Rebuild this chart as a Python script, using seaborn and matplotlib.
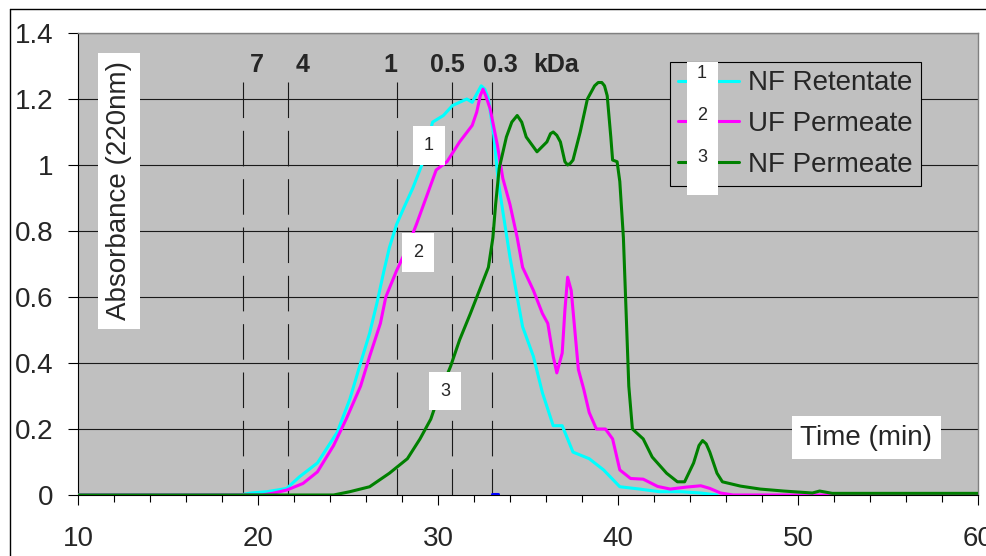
import numpy as np
import pandas as pd
import matplotlib
matplotlib.use('Agg')
import matplotlib.pyplot as plt
import seaborn as sns
from matplotlib.patches import Rectangle
from matplotlib.lines import Line2D

# values (time in min, absorbance at 220 nm)
ret_time = [10, 19.0, 19.6, 20.5, 21.6, 22.3, 23.3, 24.4, 25.1, 25.7, 26.2, 26.6, 27.0,
            27.3, 27.7, 28.1, 28.6, 29.1, 29.7, 30.3, 30.8, 31.6, 31.9, 32.2, 32.4,
            32.6, 32.8, 33.1, 33.35, 33.6, 34.0, 34.4, 34.7, 35.3, 35.8, 36.4, 36.9,
            37.5, 38.4, 39.2, 40.1, 41.2, 42.3, 43.5, 44.6, 45.5]
ret_abs = [0, 0, 0.006, 0.01, 0.02, 0.055, 0.097, 0.19, 0.29, 0.40, 0.49, 0.58, 0.68,
           0.75, 0.82, 0.87, 0.93, 1.00, 1.13, 1.15, 1.18, 1.20, 1.19, 1.22, 1.24,
           1.23, 1.20, 1.09, 0.95, 0.86, 0.72, 0.60, 0.51, 0.42, 0.31, 0.21, 0.21,
           0.13, 0.11, 0.076, 0.025, 0.018, 0.01, 0.01, 0.006, 0]

uf_time = [10, 20.2, 20.8, 21.6, 22.5, 23.3, 24.2, 24.9, 25.7, 26.2, 26.8, 27.1, 27.7,
           28.3, 28.8, 29.4, 29.9, 30.5, 31.2, 31.9, 32.15, 32.35, 32.5, 32.65, 32.9,
           33.3, 33.6, 34.0, 34.4, 34.7, 35.3, 35.8, 36.1, 36.4, 36.6, 36.9, 37.05,
           37.2, 37.4, 37.6, 37.8, 38.1, 38.4, 38.8, 39.3, 39.7, 40.1, 40.7, 41.4,
           42.2, 42.9, 43.8, 44.6, 45.1, 45.7, 46.4, 60]
uf_abs = [0, 0, 0.005, 0.015, 0.035, 0.07, 0.15, 0.23, 0.33, 0.42, 0.52, 0.60, 0.68,
          0.75, 0.82, 0.91, 0.985, 1.01, 1.07, 1.12, 1.16, 1.21, 1.23, 1.21, 1.17,
          1.06, 0.96, 0.88, 0.78, 0.69, 0.62, 0.55, 0.52, 0.42, 0.37, 0.43, 0.56,
          0.66, 0.62, 0.50, 0.38, 0.32, 0.25, 0.20, 0.20, 0.17, 0.076, 0.05, 0.048,
          0.026, 0.018, 0.024, 0.028, 0.02, 0.006, 0, 0]

nf_time = [10, 24.2, 25.1, 26.2, 27.3, 28.3, 29.0, 29.6, 30.1, 30.7, 31.2, 31.8, 32.3,
           32.8, 33.05, 33.2, 33.4, 33.8, 34.1, 34.4, 34.65, 34.9, 35.5, 36.05, 36.25,
           36.4, 36.6, 36.8, 37.05, 37.2, 37.35, 37.5, 37.9, 38.3, 38.7, 38.9, 39.1,
           39.25, 39.4, 39.6, 39.7, 39.95, 40.1, 40.3, 40.4, 40.5, 40.6, 40.8, 41.4,
           41.9, 42.7, 43.3, 43.7, 44.2, 44.5, 44.7, 44.9, 45.1, 45.5, 45.8, 46.8,
           47.9, 49.2, 50.8, 51.2, 51.9, 60]
nf_abs = [0, 0, 0.01, 0.025, 0.066, 0.11, 0.17, 0.23, 0.31, 0.39, 0.47, 0.55, 0.62,
          0.69, 0.78, 0.88, 0.99, 1.085, 1.13, 1.15, 1.13, 1.085, 1.04, 1.07, 1.095,
          1.10, 1.09, 1.07, 1.01, 1.00, 1.005, 1.015, 1.10, 1.20, 1.24, 1.25, 1.25,
          1.24, 1.21, 1.085, 1.015, 1.01, 0.95, 0.78, 0.63, 0.48, 0.33, 0.20, 0.17,
          0.115, 0.066, 0.04, 0.04, 0.097, 0.15, 0.165, 0.155, 0.13, 0.066, 0.04,
          0.027, 0.018, 0.012, 0.006, 0.012, 0.005, 0.005]

extra_time = [33.0, 33.35]
extra_abs = [0.003, 0.003]

series_names = ['NF Retentate', 'UF Permeate', 'NF Permeate']
series_nums = ['1', '2', '3']
series_colors = ['#00FFFF', '#FF00FF', '#008000']

# molecular weight cut-off markers
cutoff_time = [19.17, 21.67, 27.7, 30.8, 33.0]
kda_text = ['7', '4', '1', '0.5', '0.3', 'kDa']
kda_x = [19.94, 22.5, 27.33, 30.53, 33.44, 36.56]

df = pd.concat([
    pd.DataFrame({'time': ret_time, 'abs': ret_abs, 'series': series_names[0]}),
    pd.DataFrame({'time': uf_time, 'abs': uf_abs, 'series': series_names[1]}),
    pd.DataFrame({'time': nf_time, 'abs': nf_abs, 'series': series_names[2]}),
])

sns.set_style('white', {'axes.facecolor': '#C0C0C0'})
plt.rcParams['font.family'] = ['Liberation Sans', 'DejaVu Sans']

W, H = 986, 556
fig = plt.figure(figsize=(W / 100, H / 100), dpi=100)
ax = fig.add_axes([78 / W, 1 - 495 / H, 900 / W, 462 / H])

for y in np.arange(0.2, 1.41, 0.2):
    ax.axhline(y, color='#1a1a1a', lw=0.8, zorder=1)

for t in cutoff_time:
    ax.plot([t, t], [1.2515, 0], color='#1a1a1a', lw=0.8,
            linestyle=(0, (32, 11.5)), zorder=1)

sns.lineplot(data=df, x='time', y='abs', hue='series', hue_order=series_names,
             palette=series_colors, sort=False, estimator=None, lw=2.2,
             ax=ax, zorder=3, legend=False)
ax.plot(extra_time, extra_abs, color='#0000FF', lw=2.2, zorder=3)

ax.set_xlim(10, 60)
ax.set_ylim(0, 1.4)
ax.set_xticks([10, 20, 30, 40, 50, 60])
ax.set_xticks(np.arange(10, 61, 2), minor=True)
ax.set_yticks(np.arange(0, 1.41, 0.2))
ax.set_yticklabels(['0', '0.2', '0.4', '0.6', '0.8', '1', '1.2', '1.4'])
ax.tick_params(axis='x', which='major', direction='out', length=7.5, width=0.8,
               pad=15, labelsize=20, color='black', bottom=True)
ax.tick_params(axis='x', which='minor', direction='out', length=5, width=0.8,
               color='black', bottom=True)
ax.tick_params(axis='y', direction='out', length=7.2, width=0.8, pad=10.5,
               labelsize=20, color='black', left=True)
ax.set_xlabel('')
ax.set_ylabel('')
for side in ['top', 'right']:
    ax.spines[side].set_color('#808080')
    ax.spines[side].set_linewidth(1)
for side in ['left', 'bottom']:
    ax.spines[side].set_color('black')
    ax.spines[side].set_linewidth(0.8)

for txt, x in zip(kda_text, kda_x):
    ax.text(x, 1.303, txt, ha='center', va='center', fontsize=18,
            fontweight='bold', zorder=4)

box = dict(boxstyle='square,pad=0.6', fc='white', ec='none')
ax.text(29.5, 1.06, series_nums[0], ha='center', va='center', fontsize=13, bbox=box, zorder=5)
ax.text(28.9, 0.735, series_nums[1], ha='center', va='center', fontsize=13, bbox=box, zorder=5)
ax.text(30.4, 0.315, series_nums[2], ha='center', va='center', fontsize=13, bbox=box, zorder=5)

ax.text(53.8, 0.174, 'Time (min)', ha='center', va='center', fontsize=20,
        bbox=dict(boxstyle='square,pad=0.3', fc='white', ec='none'), zorder=5)

fig.text(119 / W, 1 - 191 / H, 'Absorbance (220nm)', rotation=90, ha='center',
         va='center', fontsize=20,
         bbox=dict(boxstyle='square,pad=0.3', fc='white', ec='none'))

handles = [Line2D([], [], color=c, lw=2.2) for c in series_colors]
leg = ax.legend(handles, series_names, loc='upper left',
                bbox_to_anchor=(670 / W, 1 - 62 / H), bbox_transform=fig.transFigure,
                borderaxespad=0, borderpad=0.3, handlelength=2.2, handletextpad=0.3,
                labelspacing=0.53, fontsize=20, fancybox=False, framealpha=1)
leg.get_frame().set_edgecolor('black')
leg.get_frame().set_linewidth(0.8)
leg.set_zorder(6)

fig.patches.append(Rectangle((687 / W, 1 - 195 / H), 31 / W, 133 / H,
                             transform=fig.transFigure, fc='white', ec='none', zorder=7))
for num, yp in zip(series_nums, [73, 115, 157]):
    fig.text(702 / W, 1 - yp / H, num, ha='center', va='center', fontsize=13, zorder=8)

# outer chart frame
fig.add_artist(Line2D([10 / W, 10 / W], [0, 1 - 9 / H], color='black', lw=1,
                      transform=fig.transFigure))
fig.add_artist(Line2D([10 / W, 1], [1 - 9 / H, 1 - 9 / H], color='black', lw=1,
                      transform=fig.transFigure))

fig.savefig('out.png', dpi=100)
